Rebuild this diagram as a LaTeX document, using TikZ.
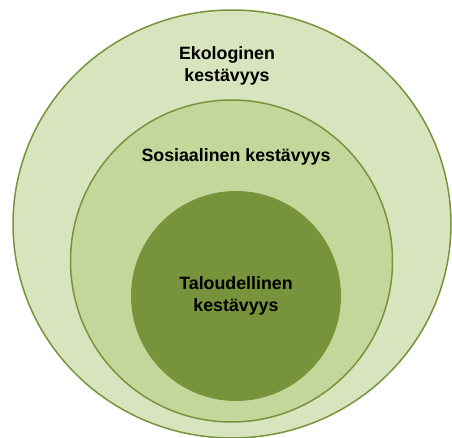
\documentclass[tikz,border=0pt]{standalone}
\usepackage{fontspec}
\setmainfont{Liberation Sans}
\definecolor{ringline}{HTML}{77933C}
\definecolor{outerfill}{HTML}{D8E4BD}
\definecolor{midfill}{HTML}{C4D79B}
\definecolor{innerfill}{HTML}{77933C}
\tikzset{
  ring/.style={draw=ringline, line width=1.5pt},
  lbl/.style={font=\fontsize{17.8}{22}\selectfont\bfseries, align=center, text=black, inner sep=0pt}
}
\begin{document}
\begin{tikzpicture}[x=1pt,y=-1pt]
\useasboundingbox (0,0) rectangle (452,438);
\fill[white] (0,0) rectangle (452,438);
\draw[ring, fill=outerfill] (232,224) ellipse [x radius=219, y radius=214];
\draw[ring, fill=midfill] (231.5,261) circle [radius=161];
\fill[innerfill] (236,296) circle [radius=105];
\node[lbl] (eko) at (227,66) {Ekologinen\\kestävyys};
\node[lbl] (sos) at (236,157) {Sosiaalinen kestävyys};
\node[lbl] (tal) at (236,296) {Taloudellinen\\kestävyys};
\end{tikzpicture}
\end{document}
